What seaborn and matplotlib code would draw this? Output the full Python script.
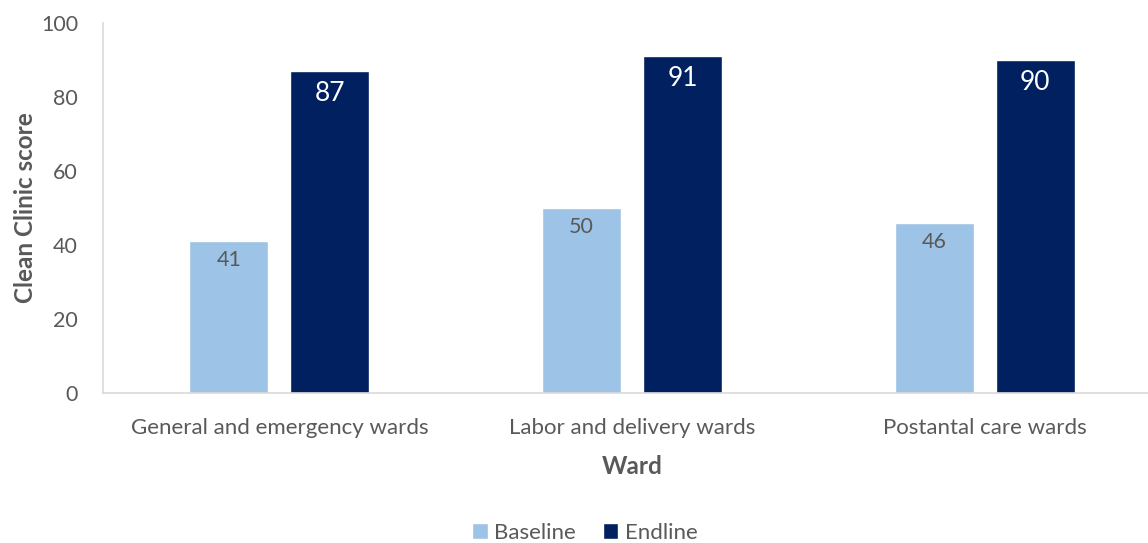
import pandas as pd
import seaborn as sns
import matplotlib.pyplot as plt

# Data
wards = ["General and emergency wards", "Labor and delivery wards", "Postantal care wards"]
baseline = [41, 50, 46]
endline = [87, 91, 90]
periods = ["Baseline", "Endline"]

df = pd.DataFrame({
    "Ward": wards * 2,
    "Period": [periods[0]] * 3 + [periods[1]] * 3,
    "Score": baseline + endline,
})

sns.set_style("white")
plt.rcParams["font.family"] = ["Lato", "DejaVu Sans"]
grey = "#595959"

fig = plt.figure(figsize=(11.48, 5.43), dpi=100)
ax = fig.add_axes([103 / 1148, 150 / 543, 1058 / 1148, 370 / 543])

sns.barplot(data=df, x="Ward", y="Score", hue="Period",
            palette=["#9DC3E6", "#002060"], width=0.573, gap=0.217,
            saturation=1, ax=ax, legend=True)

# Value labels inside bar tops
ax.bar_label(ax.containers[0], padding=-21, color=grey, fontsize=15.5)
ax.bar_label(ax.containers[1], padding=-25, color="white", fontsize=19)

ax.set_xlim(-0.5, 2.5)
ax.set_ylim(0, 100)
ax.set_yticks(range(0, 101, 20))
ax.tick_params(axis="both", colors=grey, length=0)
ax.tick_params(axis="x", labelsize=16, pad=18)
ax.tick_params(axis="y", labelsize=15.5, pad=18)
ax.set_xlabel("Ward", fontsize=17.5, fontweight="bold", color=grey, labelpad=12)
ax.set_ylabel("Clean Clinic score", fontsize=17.5, fontweight="bold", color=grey, labelpad=3)

for s in ["top", "right"]:
    ax.spines[s].set_visible(False)
for s in ["left", "bottom"]:
    ax.spines[s].set_color("#D9D9D9")
    ax.spines[s].set_linewidth(1.2)

ax.legend(loc="center", ncol=2, frameon=False, fontsize=16,
          handlelength=0.7, handleheight=0.7, handletextpad=0.3,
          columnspacing=1.2, labelcolor=grey,
          bbox_to_anchor=(585 / 1148, 10 / 543), bbox_transform=fig.transFigure)

fig.savefig("out.png", dpi=100)
